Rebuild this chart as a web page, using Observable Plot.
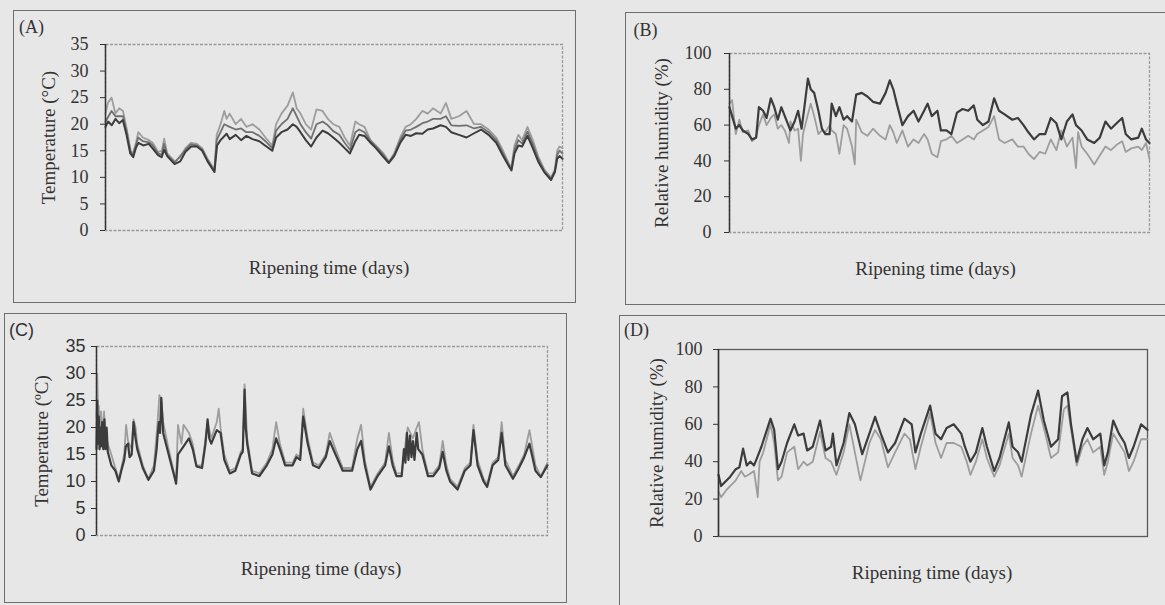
<!DOCTYPE html>
<html><head><meta charset="utf-8">
<script src="https://cdn.jsdelivr.net/npm/d3@7"></script>
<script src="https://cdn.jsdelivr.net/npm/@observablehq/plot@0.6"></script>
<style>
html,body{margin:0;padding:0;background:#e7e7e7;}
#fig{position:relative;width:1165px;height:605px;overflow:hidden;background:#e7e7e7;}
.box{position:absolute;border:1px solid #6e6e6e;box-sizing:border-box;pointer-events:none;}
.pan{position:absolute;}
</style></head><body><div id="fig"></div>
<script>
// ---- data (day, value) ----
const panelLetters = ["(A)", "(B)", "(C)", "(D)"];
const xTitle = "Ripening time (days)";
const yTitles = ["Temperature (°C)", "Relative humidity (%)", "Temperature (ºC)", "Relative humidity (%)"];
const tempTicks = [0, 5, 10, 15, 20, 25, 30, 35];
const rhTicks = [0, 20, 40, 60, 80, 100];

const tempA_dark = [[0,19.5],[0.34,20.5],[0.82,19.8],[1.31,21],[1.8,20.2],[2.28,20.8],[2.76,18],[3.25,14.5],[3.64,13.8],[3.98,15.5],[4.32,16.5],[4.95,16],[5.67,16.3],[6.16,15.5],[6.89,14.2],[7.37,13.8],[7.71,15.2],[8.1,14],[9.07,12.5],[9.8,13],[10.5,14.8],[11.25,15.8],[12,15.8],[12.7,15],[13.4,13],[14.3,11],[14.65,16],[15.1,17],[15.9,18.2],[16.3,17.2],[17.1,18],[17.8,17],[18.5,17.8],[19.3,17.2],[20.2,16.8],[20.95,16],[21.9,15],[22.4,17.5],[23.1,18.5],[23.9,19],[24.6,20],[25.1,19.5],[25.6,18.5],[26.3,17],[27,15.8],[27.7,17.5],[28.5,18.8],[29.2,18.3],[29.9,17.5],[30.7,16.5],[31.4,15.5],[32.1,14.5],[32.8,16.8],[33.3,18],[34,17.8],[34.8,16.5],[35.5,15.5],[36.5,13.8],[37.2,12.7],[37.9,14],[38.7,16.5],[39.4,18],[40.1,17.8],[40.8,18.3],[41.6,18.2],[42.3,19],[43,19.2],[44,19.8],[44.7,19.5],[45.4,18.5],[46.4,18],[47.4,17.5],[48.4,18.3],[49.3,19],[50.3,18],[51.3,16.5],[52.2,14],[53,12],[53.3,11.3],[53.7,14.5],[54.2,16],[54.7,15.8],[55.4,17.8],[56.1,15.5],[56.8,13],[57.6,11],[58.5,9.5],[59,11],[59.3,13.5],[59.6,14],[60,13.5]];
const tempA_mid = [[0,20.5],[0.8,22.5],[1.3,21.5],[2.3,21.5],[2.8,18.5],[3.3,14.8],[3.6,14.2],[4.3,17.5],[4.9,16.8],[5.7,16.6],[6.2,16],[6.9,14.5],[7.4,14.3],[7.7,16.3],[8.1,14.2],[9.1,12.8],[10.5,15.2],[11.2,16.2],[12,16],[12.7,15.2],[13.4,13.2],[14.3,11.2],[14.6,17],[15.1,18.5],[15.6,20],[16.3,19.5],[17.1,19],[17.8,19.2],[18.5,18.5],[19.3,18.5],[20.2,17.8],[21,16.8],[21.9,15.5],[22.4,18.8],[23.1,20],[23.9,21],[24.6,23],[25.1,21.5],[25.6,20],[26.3,18.5],[27,17.3],[27.7,20],[28.5,20.5],[29.2,19.8],[29.9,18.7],[30.7,18],[31.4,16.5],[32.1,15.2],[32.8,18.5],[33.3,19],[34,18.5],[34.8,16.8],[35.5,15.8],[36.5,14.2],[37.2,12.8],[37.9,14.2],[38.7,17],[39.4,18.8],[40.1,19],[40.8,19.5],[41.6,20.2],[42.3,20.5],[43,21],[44,21],[44.7,21.5],[45.4,19.8],[46.4,19.7],[47.4,19.8],[48.4,19.2],[49.3,19.5],[50.3,18.5],[51.3,17],[52.2,14.5],[53,12.2],[53.3,11.6],[53.7,15.2],[54.2,17],[54.7,16.4],[55.4,18.6],[56.1,16.2],[56.8,13.5],[57.6,11.2],[58.5,9.7],[59,11.2],[59.3,14.2],[59.6,15],[60,14.5]];
const tempA_light = [[0,22],[0.3,24],[0.8,25],[1.3,22],[1.8,23],[2.3,22.5],[2.8,19],[3.3,15],[3.6,14.5],[4.0,16.5],[4.3,18.5],[4.9,17.5],[5.7,17],[6.2,16.5],[6.9,14.8],[7.4,15],[7.7,17.3],[8.1,14.5],[9.1,13],[9.8,13.8],[10.5,15.5],[11.2,16.5],[12,16.3],[12.7,15.5],[13.4,13.5],[14.3,11.5],[14.6,18],[15.1,20],[15.6,22.5],[15.9,21],[16.3,22],[17.1,20],[17.8,21],[18.5,19.5],[19.3,20],[20.2,19],[21.0,17.5],[21.9,16],[22.4,20],[23.1,22],[23.9,23.5],[24.6,26],[25.1,23],[25.6,22],[26.3,20],[27,19],[27.7,22.8],[28.5,22.5],[29.2,21],[29.9,20],[30.7,19.5],[31.4,17.5],[32.1,16],[32.8,20.5],[33.3,20],[34,19.5],[34.8,17],[35.5,16],[36.5,14.5],[37.2,13],[37.9,14.5],[38.7,17.5],[39.4,19.5],[40.1,20],[40.8,21],[41.6,22.5],[42.3,22],[43,23],[44,22],[44.7,24],[45.4,21],[46.4,21.5],[47.4,22.5],[48.4,20],[49.3,20],[50.3,19],[51.3,17.5],[52.2,15],[53,12.5],[53.3,12],[53.7,16],[54.2,18],[54.7,17],[55.4,19.5],[56.1,17],[56.8,14],[57.6,11.5],[58.5,10],[59,11.5],[59.3,15],[59.6,15.8],[60,15.5]];

const rhB_dark = [[0,70],[0.37,65],[0.9,58],[1.4,60],[1.9,57],[2.7,55],[3.2,52],[3.8,53],[4.2,70],[4.8,68],[5.3,64],[5.9,75],[6.4,70],[6.9,63],[7.4,70],[7.9,65],[8.7,57],[9.3,62],[9.8,68],[10.3,58],[10.7,70],[11.2,86],[11.6,80],[12.1,78],[12.7,68],[13.2,58],[13.7,55],[14.3,55],[14.6,72],[15.2,65],[15.7,70],[16.3,63],[16.8,65],[17.5,62],[18.1,77],[18.9,78],[19.7,76],[20.5,73],[21.5,72],[22.3,78],[22.9,85],[23.4,80],[23.9,72],[24.7,60],[25.5,65],[26.3,68],[27,62],[27.8,68],[28.3,72],[28.9,65],[29.7,68],[30.2,57],[31,57],[31.7,55],[32.5,67],[33.3,69],[34.1,68],[34.9,71],[35.4,63],[36.2,60],[37,62],[37.8,75],[38.5,68],[39.3,66],[40.4,63],[41.2,64],[42,60],[42.7,56],[43.5,52],[44.3,55],[45.1,55],[45.9,64],[46.7,61],[47.4,52],[48.2,62],[49,66],[49.5,60],[50.3,57],[51.1,52],[52.1,50],[52.9,53],[53.7,62],[54.5,58],[55.3,61],[56.1,64],[56.6,55],[57.4,52],[58.4,53],[58.9,58],[59.5,52],[60,50]];
const rhB_light = [[0,72],[0.37,74],[0.9,55],[1.4,63],[1.9,56],[2.7,57],[3.2,51],[3.8,53],[4.2,60],[4.8,66],[5.3,60],[5.9,64],[6.4,66],[6.9,58],[7.4,60],[7.9,57],[8.5,50],[8.7,62],[9.3,57],[9.8,58],[10.2,40],[10.5,55],[11.2,66],[11.6,72],[12.1,65],[12.7,55],[13.2,57],[13.7,56],[14.3,60],[14.6,57],[15.2,55],[15.7,44],[16.3,60],[16.8,58],[17.5,48],[17.9,38],[18.1,63],[18.9,56],[19.7,54],[20.5,58],[21.5,54],[22.3,52],[22.9,60],[23.4,56],[23.9,50],[24.7,57],[25.5,48],[26.3,52],[27,50],[27.8,55],[28.3,52],[28.9,44],[29.7,42],[30.2,51],[31,52],[31.7,54],[32.5,50],[33.3,52],[34.1,54],[34.9,52],[35.4,55],[36.2,57],[37,59],[37.8,65],[38.5,52],[39.3,50],[40.4,52],[41.2,48],[42,48],[42.7,44],[43.5,41],[44.3,45],[45.1,44],[45.9,52],[46.7,46],[47.4,57],[48.2,48],[49,53],[49.5,36],[49.8,56],[50.3,48],[51.1,44],[52.1,38],[52.9,43],[53.7,48],[54.5,46],[55.3,49],[56.1,51],[56.6,45],[57.4,47],[58.4,48],[58.9,46],[59.5,50],[60,41]];

const tempC_dark = [[0,16],[0.1,25],[0.2,17],[0.3,22],[0.4,16],[0.5,20],[0.6,16.5],[0.75,21],[0.9,16],[1.05,21.5],[1.2,16],[1.35,20],[1.5,15.5],[1.97,13],[2.5,12],[2.96,10],[3.3,12],[3.69,14],[3.9,16.5],[4.19,17],[4.4,14.5],[4.68,15],[4.93,21],[5.2,18],[5.42,16],[6.16,12.5],[6.9,10.3],[7.64,12],[8.0,16],[8.13,18.5],[8.3,21],[8.45,19],[8.62,25.5],[8.87,19],[9.6,15],[10.34,11],[10.59,9.6],[10.84,15],[11.58,16.5],[12.3,18],[12.8,16],[13.3,12.8],[14.04,12.5],[14.5,17],[14.78,21.5],[15.0,18],[15.27,17],[16,19.5],[16.5,19],[17,14],[17.73,11.5],[18.47,12],[19.2,15],[19.46,15.5],[19.7,27],[19.85,20],[20.05,17],[20.7,11.5],[21.67,11],[22.66,13],[23.4,15],[23.9,18],[24.4,16],[25.1,13],[26.1,13],[26.6,14.5],[27.1,14],[27.5,22],[28.1,17],[28.8,13],[29.6,12.5],[30.5,14.5],[31.03,17.5],[31.8,15],[32.76,12],[34,12],[34.7,16],[35.2,17.5],[35.7,13],[36.45,8.5],[37.4,11],[38.4,13],[38.9,16.5],[39.4,13],[39.9,11],[40.6,11],[40.9,16],[41.1,13.5],[41.3,19],[41.5,14],[41.7,18.5],[41.9,14.5],[42.1,17.5],[42.3,14],[42.6,19],[42.8,16],[43.35,15],[44.1,11],[44.8,11],[45.6,12.5],[46.06,15.5],[46.55,12],[47.04,10],[48.03,8.5],[49,12],[49.75,13],[50.15,19.5],[50.7,13],[51.5,10],[51.97,9],[52.7,13],[53.45,14],[53.9,19],[54.4,13],[55.4,10.5],[56.2,12.5],[56.9,14.5],[57.6,17],[58.4,12],[59.1,10.8],[60,13]];
const tempC_light = [[0,22],[0.1,30],[0.2,23],[0.3,24],[0.45,19],[0.6,23],[0.8,18],[1.0,23],[1.2,19],[1.5,17],[1.97,15],[2.5,12.5],[2.96,10.5],[3.3,12.5],[3.69,15],[3.94,20.5],[4.19,17.5],[4.68,16],[4.93,21.5],[5.2,20],[5.42,17],[6.16,13],[6.9,10.5],[7.64,13],[8.13,21],[8.37,26],[8.62,25],[8.87,21],[9.6,16],[10.34,11.5],[10.59,10],[10.84,20.5],[11.3,17],[11.58,20.5],[12.3,19],[12.8,17],[13.3,13],[14.04,13],[14.5,18],[14.78,21],[15.27,18],[16,21],[16.26,23.5],[16.5,20],[17,15],[17.73,12],[18.47,12.5],[19.2,15.5],[19.46,16],[19.7,28],[20.05,18],[20.7,12],[21.67,11.5],[22.66,13.5],[23.4,16],[23.9,21],[24.4,17],[25.1,13.5],[26.1,13.5],[26.6,15],[27.1,14.5],[27.5,23.5],[28.1,18],[28.8,13.5],[29.6,13],[30.5,15],[31.03,19],[31.8,16],[32.76,12.5],[34,12.5],[34.7,18],[35.2,20.5],[35.7,14],[36.45,9],[37.4,11.5],[38.4,13.5],[38.9,19],[39.4,14],[39.9,11.5],[40.6,11.5],[41.1,17],[41.4,20],[42.1,18],[42.6,20],[42.9,21],[43.35,16],[44.1,11.5],[44.8,11.5],[45.6,13],[46.06,17.5],[46.55,13],[47.04,10.5],[48.03,9],[49,12.5],[49.75,13.5],[50.15,20.5],[50.7,14],[51.5,10.5],[51.97,9.5],[52.7,13.5],[53.45,14.5],[53.9,21],[54.4,14],[55.4,11],[56.2,13],[56.9,15],[57.6,19.5],[58.4,13],[59.1,11],[60,13.5]];

const rhD_dark = [[0,33],[0.36,27],[0.87,29],[1.64,32],[2.41,36],[2.92,37],[3.44,47],[3.95,38],[4.46,40],[4.97,38],[5.49,43],[6,48],[6.77,57],[7.28,63],[7.79,57],[8.31,36],[8.82,40],[9.59,50],[10.6,60],[11.13,54],[11.9,55],[12.4,46],[13.18,48],[14.2,62],[14.97,46],[15.74,48],[16,55],[16.5,38],[17.5,50],[18.3,66],[19.08,60],[20.1,44],[21.1,55],[21.9,64],[22.7,55],[23.7,45],[24.7,50],[26,63],[27.02,60],[27.54,45],[28.3,55],[29.6,70],[30.36,55],[31.13,52],[31.9,58],[32.9,60],[33.95,55],[34.46,48],[35.23,40],[36,45],[36.9,58],[37.54,48],[38.56,35],[39.3,42],[40.6,61],[41.13,48],[41.9,45],[42.4,40],[43.7,65],[44.7,78],[45.5,62],[46.5,48],[47.5,52],[48.05,75],[48.8,77],[49.3,60],[50.1,40],[50.9,52],[51.6,58],[52.4,52],[53.4,55],[53.95,38],[54.46,45],[55.2,62],[56,55],[56.8,50],[57.4,42],[58.05,48],[59.1,60],[60,57]];
const rhD_light = [[0,24],[0.36,21],[1.13,25],[1.9,28],[2.41,30],[3.18,35],[3.69,32],[4.2,33],[4.97,35],[5.49,21],[5.74,40],[6.26,45],[7.28,60],[7.79,50],[8.31,30],[8.82,32],[9.59,45],[10.6,48],[11.13,36],[11.9,40],[12.4,38],[13.18,40],[14.2,56],[14.97,42],[15.74,40],[16.5,33],[17.5,45],[18.3,60],[19.33,40],[19.85,30],[21.1,50],[21.9,57],[22.7,52],[23.7,37],[24.7,45],[26,55],[26.77,52],[27.54,36],[28.3,48],[29.6,66],[30.36,50],[31.13,42],[31.9,50],[32.9,50],[33.95,48],[34.72,40],[35.23,33],[36,40],[36.9,52],[37.54,42],[38.56,32],[39.3,38],[40.6,55],[41.13,42],[41.9,38],[42.4,32],[43.7,55],[44.7,70],[45.7,55],[46.5,42],[47.5,45],[48.3,68],[48.8,70],[49.6,50],[50.1,38],[50.9,48],[51.6,52],[52.4,45],[53.4,48],[53.95,33],[54.46,40],[55.2,55],[56,50],[56.8,45],[57.4,35],[58.05,40],[59.1,52],[60,52]];

// ---- layout & drawing ----
const SERIF = "'Liberation Serif','Times New Roman',serif";
const SANS = "'Liberation Sans',Arial,sans-serif";
const DARK = "#3c3c3c", MID = "#707070", LIGHT = "#9d9d9d";

const panels = [
  {box:{l:13,t:10,r:576,b:303}, frame:{l:105,t:44,r:562,b:230}, yDomain:[0,35], ticks:tempTicks, pad:12, tickFont:SERIF,
   letter:panelLetters[0], letterFont:SERIF, lx:-74, ly:-17, yTitle:yTitles[0], ytx:-57, xtx:-5, xty:37,
   series:[[tempA_light, LIGHT, 1.8],[tempA_mid, MID, 1.8],[tempA_dark, DARK, 2]], frameStroke:"#9a9a9a", dash:"3,1.5"},
  {box:{l:625,t:12,r:1170,b:305}, frame:{l:729,t:53,r:1149,b:232}, yDomain:[0,100], ticks:rhTicks, pad:13, tickFont:SERIF,
   letter:panelLetters[1], letterFont:SERIF, lx:-84, ly:-23, yTitle:yTitles[1], ytx:-68, xtx:-4, xty:36,
   series:[[rhB_light, LIGHT, 1.8],[rhB_dark, DARK, 2.2]], frameStroke:"#9a9a9a", dash:"3,1.5"},
  {box:{l:4,t:313,r:567,b:603}, frame:{l:96,t:346,r:547,b:535}, yDomain:[0,35], ticks:tempTicks, pad:6, tickFont:SANS,
   letter:panelLetters[2], letterFont:SANS, lx:-75, ly:-16, yTitle:yTitles[2], ytx:-55, xtx:-1, xty:33,
   series:[[tempC_light, LIGHT, 1.8],[tempC_dark, DARK, 2.2]], frameStroke:"#9a9a9a", dash:"3,1.5"},
  {box:{l:619,t:315,r:1170,b:610}, frame:{l:718,t:349,r:1147,b:536}, yDomain:[0,100], ticks:rhTicks, pad:11, tickFont:SERIF,
   letter:panelLetters[3], letterFont:SERIF, lx:-82, ly:-19, yTitle:yTitles[3], ytx:-62, xtx:-1, xty:36,
   series:[[rhD_light, LIGHT, 1.8],[rhD_dark, DARK, 2.2]], frameStroke:"#5a5a5a", dash:null}
];

const fig = document.getElementById("fig");
for (const p of panels) {
  const W = p.box.r - p.box.l, H = p.box.b - p.box.t;
  const txt = {textAnchor: "middle", lineAnchor: "middle", fontFamily: SERIF, fontSize: 19, text: d => d};
  const chart = Plot.plot({
    width: W, height: H,
    marginLeft: p.frame.l - p.box.l, marginRight: p.box.r - p.frame.r,
    marginTop: p.frame.t - p.box.t, marginBottom: p.box.b - p.frame.b,
    style: {background: "transparent", fontFamily: SERIF, fontSize: "18px", color: "#333", overflow: "visible", maxWidth: "none"},
    x: {domain: [0, 60], axis: null},
    y: {domain: p.yDomain},
    marks: [
      Plot.frame({stroke: p.frameStroke, strokeWidth: 1.3, strokeDasharray: p.dash || undefined}),
      ...p.series.map(([data, color, w]) => Plot.line(data, {x: d => d[0], y: d => d[1], stroke: color, strokeWidth: w, strokeLinejoin: "round"})),
      Plot.ruleX([0], {stroke: "#333", strokeWidth: 1.5}),
      Plot.axisY({ticks: p.ticks, tickSize: 5, tickPadding: p.pad, label: null, fontFamily: p.tickFont, fontSize: 18, tickFormat: d => String(d)}),
      Plot.text([p.yTitle], {...txt, frameAnchor: "left", rotate: -90, dx: p.ytx}),
      Plot.text([xTitle], {...txt, frameAnchor: "bottom", dx: p.xtx, dy: p.xty}),
      Plot.text([p.letter], {...txt, frameAnchor: "top-left", dx: p.lx, dy: p.ly, fontFamily: p.letterFont, fontSize: 18})
    ]
  });
  const wrap = document.createElement("div");
  wrap.className = "pan";
  wrap.style.left = p.box.l + "px"; wrap.style.top = p.box.t + "px";
  wrap.style.width = W + "px"; wrap.style.height = H + "px";
  wrap.appendChild(chart);
  fig.appendChild(wrap);
  const border = document.createElement("div");
  border.className = "box";
  border.style.left = p.box.l + "px"; border.style.top = p.box.t + "px";
  border.style.width = W + "px"; border.style.height = H + "px";
  fig.appendChild(border);
}
</script></body></html>
